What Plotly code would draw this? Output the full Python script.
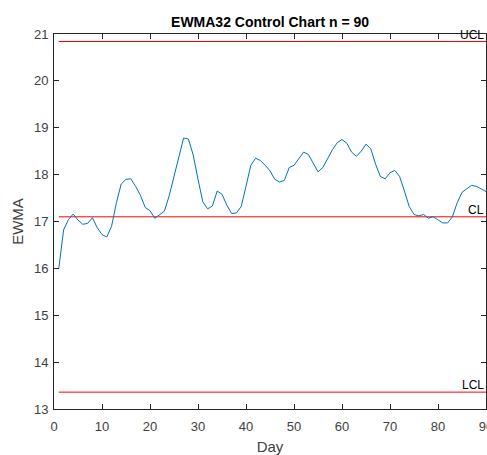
import plotly.graph_objects as go

days = list(range(1, 91))
ewma = [16.0, 16.82, 17.04, 17.16, 17.03, 16.94, 16.96, 17.08, 16.87, 16.72,
        16.67, 16.9, 17.4, 17.8, 17.9, 17.91, 17.75, 17.56, 17.3, 17.23,
        17.07, 17.14, 17.22, 17.55, 17.95, 18.4, 18.78, 18.76, 18.42, 17.9,
        17.42, 17.27, 17.33, 17.65, 17.58, 17.35, 17.17, 17.18, 17.32, 17.75,
        18.2, 18.35, 18.3, 18.2, 18.08, 17.9, 17.84, 17.88, 18.15, 18.2,
        18.35, 18.48, 18.43, 18.25, 18.06, 18.15, 18.35, 18.53, 18.68, 18.75,
        18.67, 18.48, 18.39, 18.5, 18.65, 18.55, 18.22, 17.96, 17.91, 18.04,
        18.09, 17.96, 17.65, 17.32, 17.15, 17.12, 17.15, 17.07, 17.1, 17.04,
        16.97, 16.97, 17.1, 17.4, 17.62, 17.7, 17.77, 17.75, 17.7, 17.64]
limit_names = ["UCL", "CL", "LCL"]
limit_values = [20.84, 17.1, 13.36]
x_ticks = list(range(0, 100, 10))
y_ticks = list(range(13, 22))

FONT = "Liberation Sans, Arial"

fig = go.Figure()
for name, val in zip(limit_names, limit_values):
    fig.add_trace(go.Scatter(x=[days[0], days[-1]], y=[val, val], mode="lines",
                             line=dict(color="#FF0000", width=1), hoverinfo="skip"))
    fig.add_annotation(x=days[-1], y=val, text=name, showarrow=False,
                       xanchor="right", yanchor="bottom", yshift=-2,
                       font=dict(family=FONT, size=12, color="#000000"))
fig.add_trace(go.Scatter(x=days, y=ewma, mode="lines",
                         line=dict(color="#0072BD", width=1)))

axis_common = dict(showline=True, linecolor="#262626", linewidth=1, mirror="ticks",
                   ticks="inside", ticklen=5, tickcolor="#262626", showgrid=False,
                   zeroline=False, ticklabeloverflow="allow",
                   tickfont=dict(family=FONT, size=13, color="#404040"))
fig.update_xaxes(range=[0, 90], tickvals=x_ticks, ticklabelstandoff=5,
                 title=dict(text="Day", standoff=9,
                            font=dict(family=FONT, size=15, color="#404040")), **axis_common)
fig.update_yaxes(range=[13, 21], tickvals=y_ticks, ticklabelstandoff=2,
                 title=dict(text="EWMA", standoff=6,
                            font=dict(family=FONT, size=15, color="#404040")), **axis_common)

fig.update_layout(
    width=487, height=455,
    margin=dict(l=54, r=1, t=34, b=46, autoexpand=False),
    plot_bgcolor="white", paper_bgcolor="white",
    showlegend=False,
    title=dict(text="<b>EWMA32 Control Chart n = 90</b>", x=0.5545, xanchor="center",
               y=0.952, yanchor="middle",
               font=dict(family=FONT, size=14, color="#000000")),
)
fig.write_html(
    "out.html",
    config={"displayModeBar": False},
    post_script=("document.documentElement.style.overflow='hidden';"
                 "document.body.style.margin='0';document.body.style.overflow='hidden';"),
)
